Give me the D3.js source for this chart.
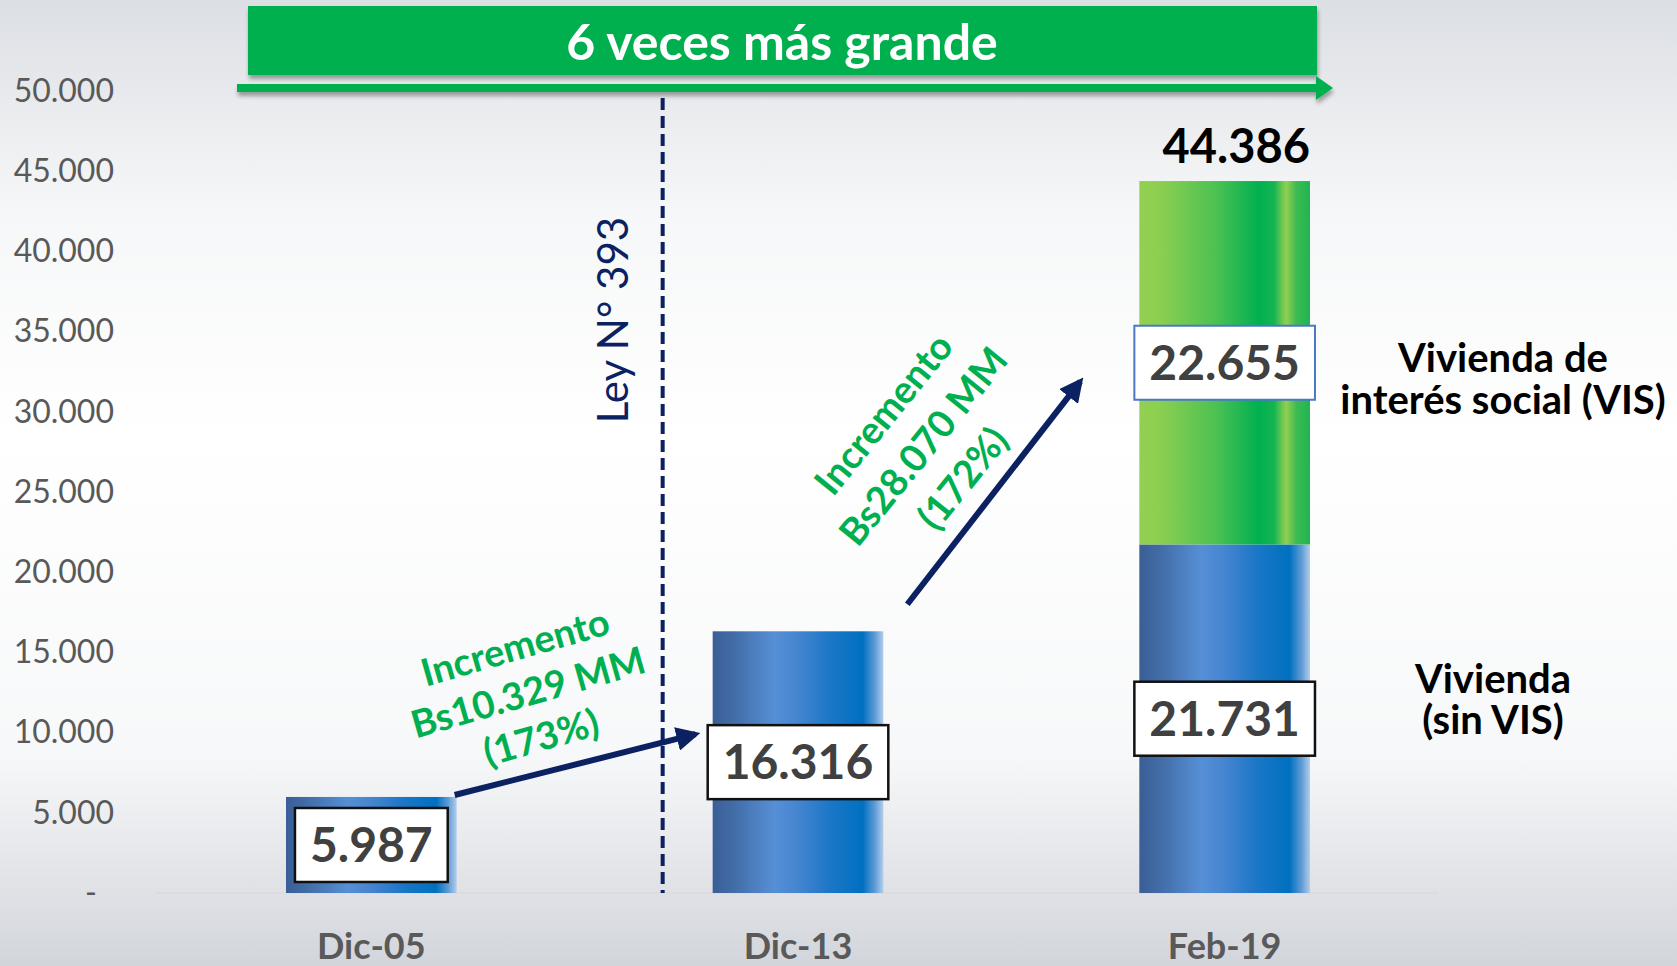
<!DOCTYPE html>
<html>
<head>
<meta charset="utf-8">
<script src="https://cdn.jsdelivr.net/npm/d3@7"></script>
<style>
  body { margin: 0; overflow: hidden; }
  svg { display: block; font-family: Lato, "Open Sans", sans-serif; }
</style>
</head>
<body>
<script>
// values
const categories = ["Dic-05", "Dic-13", "Feb-19"];
const sinVis = [5987, 16316, 21731];   // Vivienda (sin VIS)
const vis = [0, 0, 22655];             // Vivienda de interés social (VIS)
const yTicks = [0, 5000, 10000, 15000, 20000, 25000, 30000, 35000, 40000, 45000, 50000];
const title = "6 veces más grande";
const leyLabel = "Ley N° 393";
const incremento1 = ["Incremento", "Bs10.329 MM", "(173%)"];
const incremento2 = ["Incremento", "Bs28.070 MM", "(172%)"];
const legendVis = ["Vivienda de", "interés social (VIS)"];
const legendSinVis = ["Vivienda", "(sin VIS)"];

const width = 1677, height = 966;
const navy = "#0b2161", green = "#00b050";

const fmt = d3.formatLocale({decimal: ",", thousands: ".", grouping: [3], currency: ["", ""]}).format(",d");

const svg = d3.select("body").append("svg")
    .attr("width", width)
    .attr("height", height);

const defs = svg.append("defs");

// background
const bg = defs.append("linearGradient").attr("id", "bg")
    .attr("x1", 0).attr("y1", 0).attr("x2", 0).attr("y2", 1);
[[0, "#dcdfe4"], [0.22, "#f6f7f8"], [0.45, "#ffffff"], [0.78, "#f7f8f9"], [1, "#d2d5db"]]
    .forEach(s => bg.append("stop").attr("offset", s[0]).attr("stop-color", s[1]));

// bar gradients
const blueGrad = defs.append("linearGradient").attr("id", "blueBar");
[[0, "#3a5e96"], [0.12, "#426ca6"], [0.36, "#568fd6"], [0.5, "#4585d0"], [0.68, "#1d77c7"],
 [0.88, "#0070c0"], [0.95, "#5e9bd6"], [1, "#b3cdea"]]
    .forEach(s => blueGrad.append("stop").attr("offset", s[0]).attr("stop-color", s[1]));

const greenGrad = defs.append("linearGradient").attr("id", "greenBar");
[[0, "#92d050"], [0.12, "#8ccf50"], [0.45, "#4cc153"], [0.7, "#00b050"], [0.79, "#14b551"],
 [0.86, "#92d050"], [0.92, "#3dbb52"], [1, "#1fb552"]]
    .forEach(s => greenGrad.append("stop").attr("offset", s[0]).attr("stop-color", s[1]));

const shadow = defs.append("filter").attr("id", "shadow")
    .attr("x", "-5%").attr("y", "-30%").attr("width", "110%").attr("height", "180%");
shadow.append("feDropShadow").attr("dx", 1).attr("dy", 4).attr("stdDeviation", 2)
    .attr("flood-color", "#000").attr("flood-opacity", 0.35);

defs.append("marker").attr("id", "navyHead")
    .attr("viewBox", "0 0 10 10")
    .attr("refX", 8).attr("refY", 5)
    .attr("markerUnits", "userSpaceOnUse")
    .attr("markerWidth", 24).attr("markerHeight", 24)
    .attr("orient", "auto")
    .append("path").attr("d", "M0,0 L10,5 L0,10 z").attr("fill", navy);

svg.append("rect").attr("width", width).attr("height", height).attr("fill", "url(#bg)");

// scales
const y = d3.scaleLinear().domain([0, 50000]).range([893, 91]);
const x = d3.scaleBand().domain(categories).range([158, 1438])
    .paddingInner(0.6).paddingOuter(0.3);
const bw = x.bandwidth();

// y axis
svg.append("g")
    .attr("transform", "translate(114,0)")
    .call(d3.axisLeft(y).tickValues(yTicks).tickSize(0).tickPadding(0)
        .tickFormat(d => d === 0 ? "-" : fmt(d)))
    .call(g => g.select(".domain").remove())
    .selectAll("text")
    .attr("font-family", "Lato, sans-serif")
    .attr("font-size", 32)
    .attr("fill", "#595959")
    .filter(d => d === 0).attr("dx", -17);

// baseline
svg.append("line")
    .attr("x1", 155).attr("x2", 1438)
    .attr("y1", y(0)).attr("y2", y(0))
    .attr("stroke", "#dcd9d8").attr("stroke-width", 1.5);

// category axis
svg.append("g")
    .attr("transform", `translate(0,${y(0)})`)
    .call(d3.axisBottom(x).tickSize(0).tickPadding(40))
    .call(g => g.select(".domain").remove())
    .selectAll("text")
    .attr("font-family", "Lato, sans-serif")
    .attr("font-size", 36)
    .attr("font-weight", "bold")
    .attr("fill", "#595959");

// stacked bars
const rows = categories.map((c, i) => ({cat: c, sinVis: sinVis[i], vis: vis[i]}));
const series = d3.stack().keys(["sinVis", "vis"])(rows);
const fills = {sinVis: "url(#blueBar)", vis: "url(#greenBar)"};

svg.selectAll("g.series")
    .data(series)
    .enter()
    .append("g")
    .attr("class", "series")
    .attr("fill", d => fills[d.key])
    .selectAll("rect")
    .data(d => d.filter(p => p[1] > p[0]))
    .enter()
    .append("rect")
    .attr("x", d => x(d.data.cat))
    .attr("y", d => y(d[1]))
    .attr("width", bw)
    .attr("height", d => y(d[0]) - y(d[1]));

// dashed line (Ley N° 393)
const leyX = x("Dic-13") - 50;
svg.append("line")
    .attr("x1", leyX).attr("x2", leyX)
    .attr("y1", 98).attr("y2", y(0))
    .attr("stroke", navy).attr("stroke-width", 4)
    .attr("stroke-dasharray", "12,6");

svg.append("text")
    .attr("transform", `translate(${leyX - 35},320) rotate(-90)`)
    .attr("text-anchor", "middle")
    .attr("font-size", 42)
    .attr("fill", navy)
    .text(leyLabel);

// value boxes at segment midpoints
const segs = [];
series.forEach(s => s.forEach(p => {
    if (p[1] > p[0]) segs.push({key: s.key, cat: p.data.cat, mid: (p[0] + p[1]) / 2, val: p[1] - p[0]});
}));

const boxes = svg.selectAll("g.box")
    .data(segs)
    .enter()
    .append("g")
    .attr("class", "box");

boxes.append("rect");
boxes.append("text")
    .attr("x", d => x(d.cat) + bw / 2)
    .attr("y", d => y(d.mid))
    .attr("dy", "0.36em")
    .attr("text-anchor", "middle")
    .attr("font-size", 48)
    .attr("font-weight", "bold")
    .attr("fill", "#404040")
    .text(d => fmt(d.val));

boxes.each(function(d) {
    const g = d3.select(this);
    const bb = g.select("text").node().getBBox();
    const w = bb.width + 30;
    g.select("rect")
        .attr("x", x(d.cat) + bw / 2 - w / 2)
        .attr("y", y(d.mid) - 37)
        .attr("width", w)
        .attr("height", 74)
        .attr("fill", "#fff")
        .attr("stroke", d.key === "vis" ? "#4a78c4" : "#111")
        .attr("stroke-width", d.key === "vis" ? 2 : 2.5);
});

// total label on stacked bar
svg.selectAll("text.total")
    .data(rows.filter(r => r.vis > 0))
    .enter()
    .append("text")
    .attr("class", "total")
    .attr("x", d => x(d.cat) + bw)
    .attr("y", d => y(d.sinVis + d.vis) - 18)
    .attr("text-anchor", "end")
    .attr("font-size", 47)
    .attr("font-weight", "bold")
    .attr("fill", "#000")
    .text(d => fmt(d.sinVis + d.vis));

// legend texts to the right of the stacked bar
const legX = x("Feb-19") + bw;
function multiline(lines, cx, baseY, gap) {
    svg.append("text")
        .attr("text-anchor", "middle")
        .attr("font-size", 40)
        .attr("font-weight", "bold")
        .attr("fill", "#000")
        .selectAll("tspan")
        .data(lines)
        .enter()
        .append("tspan")
        .attr("x", cx)
        .attr("y", (d, i) => baseY + i * gap)
        .text(d => d);
}
multiline(legendVis, legX + 193, y(sinVis[2] + vis[2] / 2) + 9, 42);
multiline(legendSinVis, legX + 183, y(sinVis[2] / 2) - 26, 41);

// increment arrows
svg.append("line")
    .attr("x1", x("Dic-05") + bw - 2).attr("y1", y(sinVis[0]) - 2)
    .attr("x2", x("Dic-13") - 17).attr("y2", y(9900))
    .attr("stroke", navy).attr("stroke-width", 6)
    .attr("marker-end", "url(#navyHead)");

svg.append("line")
    .attr("x1", x("Dic-13") + bw + 24).attr("y1", y(18000))
    .attr("x2", x("Feb-19") - 59).attr("y2", y(31900))
    .attr("stroke", navy).attr("stroke-width", 6)
    .attr("marker-end", "url(#navyHead)");

function rotatedNote(lines, cx, cy, angle, gap) {
    svg.append("g")
        .attr("transform", `translate(${cx},${cy}) rotate(${angle})`)
        .append("text")
        .attr("text-anchor", "middle")
        .attr("font-size", 38)
        .attr("font-weight", "bold")
        .attr("fill", green)
        .selectAll("tspan")
        .data(lines)
        .enter()
        .append("tspan")
        .attr("x", 0)
        .attr("y", (d, i) => (i - 1) * gap)
        .attr("dy", "0.36em")
        .text(d => d);
}
rotatedNote(incremento1, 528, 692, -16, 47);
rotatedNote(incremento2, 923, 446, -51, 51);

// title banner with arrow
svg.append("rect")
    .attr("x", 248).attr("y", 6)
    .attr("width", 1069).attr("height", 69)
    .attr("fill", green)
    .attr("filter", "url(#shadow)");

svg.append("text")
    .attr("x", 782).attr("y", 60)
    .attr("text-anchor", "middle")
    .attr("font-size", 50)
    .attr("font-weight", "bold")
    .attr("fill", "#fff")
    .text(title);

svg.append("path")
    .attr("d", "M237,84 L1316,84 L1316,76 L1333,88 L1316,100 L1316,92 L237,92 Z")
    .attr("fill", green)
    .attr("filter", "url(#shadow)");
</script>
</body>
</html>
